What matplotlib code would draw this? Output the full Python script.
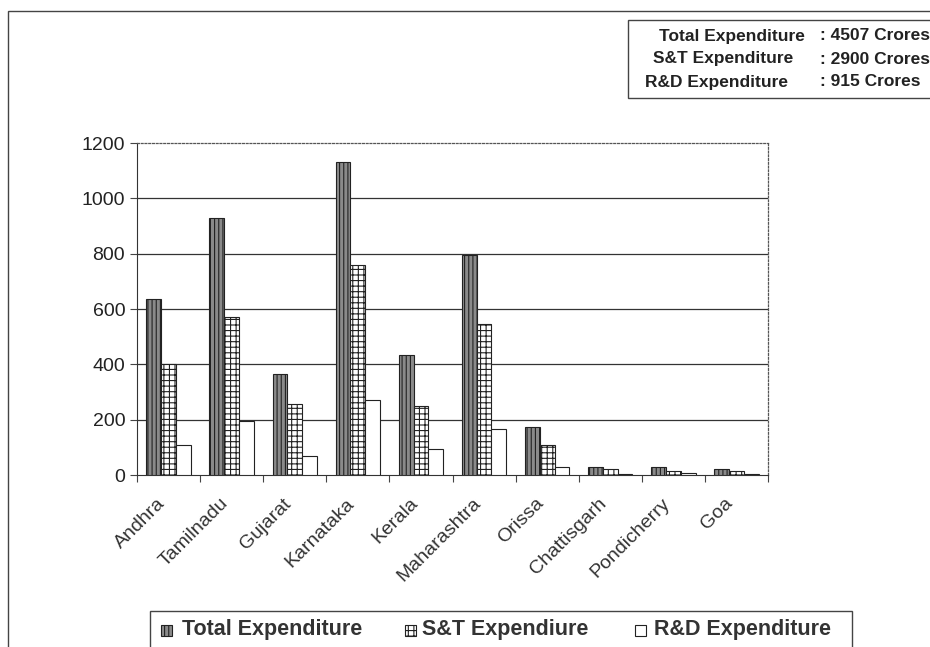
import matplotlib
matplotlib.use("Agg")
import matplotlib.pyplot as plt
import matplotlib.transforms as mtransforms
import numpy as np
from matplotlib.patches import Rectangle

states = ["Andhra", "Tamilnadu", "Gujarat", "Karnataka", "Kerala",
          "Maharashtra", "Orissa", "Chattisgarh", "Pondicherry", "Goa"]
total_exp = [635, 930, 365, 1130, 435, 795, 175, 30, 30, 20]
st_exp = [400, 570, 255, 760, 250, 545, 110, 20, 15, 15]
rd_exp = [110, 195, 70, 270, 95, 165, 30, 5, 8, 5]
series_labels = ["Total Expenditure", "S&T Expendiure", "R&D Expenditure"]
y_ticks = [0, 200, 400, 600, 800, 1000, 1200]
summary_labels = ["Total Expenditure", "S&T Expenditure", "R&D Expenditure"]
summary_values = [": 4507 Crores", ": 2900 Crores", ": 915 Crores"]

plt.rcParams['font.family'] = ['Liberation Sans', 'DejaVu Sans']
plt.rcParams['hatch.linewidth'] = 0.8

W, H = 930, 647
fig = plt.figure(figsize=(9.3, 6.47), dpi=100)
ax = fig.add_axes([137/W, 172/H, 631/W, 332/H])

styles = [dict(facecolor='#8a8a8a', edgecolor='#222222', hatch='||||'),
          dict(facecolor='white', edgecolor='#222222', hatch='+++'),
          dict(facecolor='white', edgecolor='#222222', hatch=None)]

x = np.arange(len(states))
w = 0.235
for off, vals, st in zip([-w, 0, w], [total_exp, st_exp, rd_exp], styles):
    ax.bar(x + off, vals, w, linewidth=0.8, zorder=3, **st)

ax.set_xlim(-0.5, len(states) - 0.5)
ax.set_ylim(0, 1200)
ax.set_yticks(y_ticks)
ax.set_yticklabels([str(v) for v in y_ticks], fontsize=14, color='#222222')
for v in y_ticks[1:-1]:
    ax.axhline(v, color='#333333', linewidth=0.9, zorder=1)

ax.set_xticks(np.arange(len(states) + 1) - 0.5)
ax.set_xticklabels([])
ax.tick_params(axis='x', length=5, direction='out', color='#444444')
ax.tick_params(axis='y', length=5, direction='out', color='#444444')

# category labels, rotated 45 degrees
base = mtransforms.blended_transform_factory(ax.transData, ax.transAxes)
offset = mtransforms.ScaledTranslation(-12/100, -20/100, fig.dpi_scale_trans)
for xi, name in zip(x, states):
    ax.text(xi, 0, name, transform=base + offset, rotation=45,
            rotation_mode='anchor', ha='right', va='top', fontsize=14,
            color='#333333', clip_on=False)

for s in ['top', 'right']:
    ax.spines[s].set_linestyle((0, (1.5, 1.5)))
    ax.spines[s].set_color('#555555')
    ax.spines[s].set_linewidth(0.9)
ax.spines['left'].set_color('#333333')
ax.spines['bottom'].set_color('#333333')

# outer chart border
fig.add_artist(Rectangle((8/W, -0.05), 1.0, (H - 11)/H + 0.05,
                         transform=fig.transFigure, fill=False,
                         edgecolor='#444444', linewidth=1.0))

# summary box
fig.add_artist(Rectangle((628/W, (H - 98)/H), 0.4, 78/H,
                         transform=fig.transFigure, facecolor='white',
                         edgecolor='#444444', linewidth=1.0, zorder=5))
ys = [36, 59, 82]
label_cx = [732, 723, 716]
for yy, cx, lab, val in zip(ys, label_cx, summary_labels, summary_values):
    fig.text(cx/W, 1 - yy/H, lab, ha='center', va='center',
             fontsize=12.5, fontweight='bold', color='#222222', zorder=6)
    fig.text(820/W, 1 - yy/H, val, ha='left', va='center',
             fontsize=12.5, fontweight='bold', color='#222222', zorder=6)

# legend (drawn manually)
fig.add_artist(Rectangle((150/W, -0.05), 702/W, (H - 611)/H + 0.05,
                         transform=fig.transFigure, facecolor='white',
                         edgecolor='#444444', linewidth=1.0, zorder=5))
patch_x = [161, 405, 635]
text_x = [182, 422, 654]
ly = 630
for px, tx, lab, st in zip(patch_x, text_x, series_labels, styles):
    fig.add_artist(Rectangle((px/W, (H - ly - 6)/H), 11/W, 11/H,
                             transform=fig.transFigure, linewidth=0.8,
                             zorder=6, **st))
    fig.text(tx/W, 1 - ly/H, lab, ha='left', va='center', fontsize=15.5,
             fontweight='bold', color='#333333', zorder=6)

fig.savefig("out.png", dpi=100)
